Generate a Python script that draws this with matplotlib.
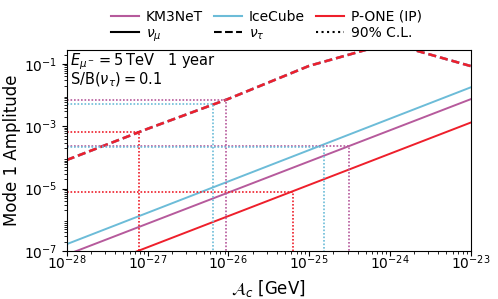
import numpy as np
import matplotlib
matplotlib.use("Agg")
import matplotlib.pyplot as plt
from matplotlib.lines import Line2D

# ---- data (log10 values) ----
ac_nodes = [1e-28, 1e-23]
km3_numu = [10**-7.12, 10**-2.13]
ice_numu = [10**-6.78, 10**-1.75]
pone_numu = [10**-7.88, 10**-2.88]

ac_tau = [1e-28, 1e-27, 1e-26, 1e-25, 1e-24, 1e-23]
amp_tau = [10**-4.08, 10**-3.08, 10**-2.12, 10**-1.06, 10**-0.33, 10**-1.065]

# 90% C.L. thresholds: (A_c crossing, amplitude)
cl_numu = {"KM3NeT": (10**-24.51, 10**-3.64),
           "IceCube": (10**-24.82, 10**-3.65),
           "P-ONE (IP)": (10**-25.20, 10**-5.10)}
cl_nutau = {"KM3NeT": (10**-26.03, 10**-2.156),
            "IceCube": (10**-26.19, 10**-2.274),
            "P-ONE (IP)": (10**-27.105, 10**-3.18)}

colors = {"KM3NeT": "#b65a9c", "IceCube": "#6cbcd8", "P-ONE (IP)": "#ee1f2b"}
xlim = (1e-28, 1e-23)
ylim = (1e-7, 10**-0.55)

fig = plt.figure(figsize=(4.98, 2.99), dpi=100)
ax = fig.add_axes([0.134, 0.1605, 0.811, 0.6723])

numu = {"KM3NeT": km3_numu, "IceCube": ice_numu, "P-ONE (IP)": pone_numu}
for name in ["KM3NeT", "IceCube", "P-ONE (IP)"]:
    ax.plot(ac_nodes, numu[name], color=colors[name], lw=1.4)
for name in ["KM3NeT", "IceCube", "P-ONE (IP)"]:
    ax.plot(ac_tau, amp_tau, color=colors[name], lw=1.8, ls=(0, (3.2, 1.6)))
for name in ["KM3NeT", "IceCube", "P-ONE (IP)"]:
    c = colors[name]
    for d in (cl_numu, cl_nutau):
        xc, yc = d[name]
        ax.plot([xlim[0], xc, xc], [yc, yc, ylim[0]], color=c, lw=1.2, ls=(0, (1, 1.1)))

ax.set_xscale("log")
ax.set_yscale("log")
ax.set_xlim(*xlim)
ax.set_ylim(*ylim)
ax.set_yticks([1e-7, 1e-5, 1e-3, 1e-1])
ax.tick_params(labelsize=10)
ax.tick_params(axis="x", which="major", pad=-1.5)
ax.set_xlabel(r"$\mathcal{A}_c$ [GeV]", fontsize=12, labelpad=4)
ax.set_ylabel("Mode 1 Amplitude", fontsize=12, labelpad=2)

ax.text(0.008, 0.995, r"$E_{\mu^-} = 5\,\mathrm{TeV}$   1 year", transform=ax.transAxes,
        ha="left", va="top", fontsize=10.5)
ax.text(0.008, 0.895, r"S/B$(\nu_\tau) = 0.1$", transform=ax.transAxes,
        ha="left", va="top", fontsize=10.5)

handles = [Line2D([], [], color=colors["KM3NeT"], lw=1.5),
           Line2D([], [], color="k", lw=1.5),
           Line2D([], [], color=colors["IceCube"], lw=1.5),
           Line2D([], [], color="k", lw=1.5, ls="--"),
           Line2D([], [], color=colors["P-ONE (IP)"], lw=1.5),
           Line2D([], [], color="k", lw=1.5, ls=":")]
labels = ["KM3NeT", r"$\nu_\mu$", "IceCube", r"$\nu_\tau$", "P-ONE (IP)", "90% C.L."]
fig.legend(handles, labels, ncol=3, loc="upper center", bbox_to_anchor=(0.535, 1.01),
           frameon=False, fontsize=10, columnspacing=0.8, handletextpad=0.5,
           labelspacing=0.2, handlelength=2.0)

fig.savefig("out.png", dpi=100)
